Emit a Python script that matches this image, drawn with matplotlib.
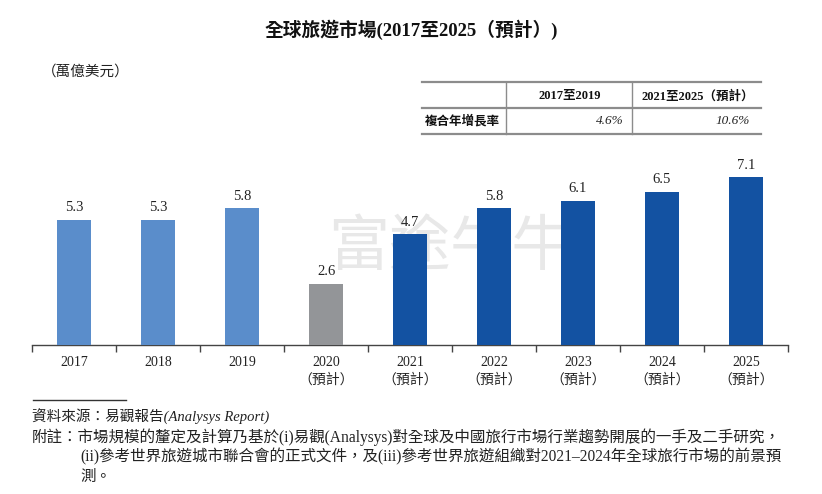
import matplotlib
matplotlib.use("Agg")
import matplotlib.pyplot as plt
from matplotlib.lines import Line2D
import numpy as np

plt.rcParams['font.family'] = ['Liberation Serif', 'Noto Sans CJK TC', 'DejaVu Sans']

years = ["2017", "2018", "2019", "2020", "2021", "2022", "2023", "2024", "2025"]
forecast = [False, False, False, True, True, True, True, True, True]
values = [5.3, 5.3, 5.8, 2.6, 4.7, 5.8, 6.1, 6.5, 7.1]
bar_colors = ["#5A8DCB", "#5A8DCB", "#5A8DCB", "#939598",
              "#1352A2", "#1352A2", "#1352A2", "#1352A2", "#1352A2"]
title = "全球旅遊市場(2017至2025（預計）)"
unit = "（萬億美元）"
table_cols = ["2017至2019", "2021至2025（預計）"]
table_row = "複合年增長率"
table_vals = ["4.6%", "10.6%"]
source = "資料來源：易觀報告(Analysys Report)"
notes = ["附註：市場規模的釐定及計算乃基於(i)易觀(Analysys)對全球及中國旅行市場行業趨勢開展的一手及二手研究，",
         "(ii)參考世界旅遊城市聯合會的正式文件，及(iii)參考世界旅遊組織對2021–2024年全球旅行市場的前景預",
         "測。"]

W, H = 822, 494
fig = plt.figure(figsize=(W / 100, H / 100), dpi=100)

def fx(x):
    return x / W

def fy(y):
    return 1 - y / H

# axes: x from 32 to 788 px, baseline at y=345, 23.6 px per unit
ymax = 8.0
top_px = 345 - ymax * 23.6
ax = fig.add_axes([fx(32), fy(345), fx(788) - fx(32), (345 - top_px) / H])
ax.set_zorder(2)
ax.patch.set_alpha(0)

x = np.arange(len(years))
bars = ax.bar(x, values, width=0.405, color=bar_colors, zorder=3)
ax.set_xlim(-0.5, len(years) - 0.5)
ax.set_ylim(0, ymax)
for xi, v in zip(x, values):
    ax.annotate(f"{v:.1f}", (xi, v), xytext=(0, 4), textcoords="offset points",
                ha="center", va="bottom", fontsize=10.5, color="#222222")

for s in ["top", "left", "right"]:
    ax.spines[s].set_visible(False)
ax.spines["bottom"].set_color("#444444")
ax.spines["bottom"].set_linewidth(1.0)
ax.set_yticks([])
ax.set_xticks(x)
labels = [f"{y}\n（預計）" if f else y for y, f in zip(years, forecast)]
ax.set_xticklabels(labels, fontsize=10, color="#222222", linespacing=1.4, va="top")
ax.tick_params(axis="x", which="major", length=0, pad=8)
ax.set_xticks(np.arange(-0.5, len(years)), minor=True)
ax.tick_params(axis="x", which="minor", length=5, width=1.0, color="#444444", direction="out")

# watermark
fig.text(fx(450), fy(248), "富途牛牛", fontsize=44, color="#E8E8E8",
         ha="center", va="center", family=["Noto Sans CJK TC"], zorder=0)

# title and unit
fig.text(fx(411), fy(30), title, fontsize=13.5, fontweight="bold", ha="center", va="center", color="#111111")
fig.text(fx(42), fy(72), unit, fontsize=10.5, ha="left", va="center", color="#222222")

# table
lc = "#8C8C8C"
fig.add_artist(Line2D([fx(422), fx(761)], [fy(82), fy(82)], color=lc, lw=1.6))
fig.add_artist(Line2D([fx(422), fx(761)], [fy(108), fy(108)], color=lc, lw=1.6))
fig.add_artist(Line2D([fx(422), fx(761)], [fy(134), fy(134)], color=lc, lw=1.6))
fig.add_artist(Line2D([fx(506), fx(506)], [fy(82), fy(134)], color=lc, lw=1.0))
fig.add_artist(Line2D([fx(632), fx(632)], [fy(82), fy(134)], color=lc, lw=1.0))
fig.text(fx(570), fy(96), table_cols[0], fontsize=9, fontweight="bold", ha="center", va="center", color="#111111")
fig.text(fx(698), fy(96), table_cols[1], fontsize=9, fontweight="bold", ha="center", va="center", color="#111111")
fig.text(fx(425), fy(121), table_row, fontsize=9, fontweight="bold", ha="left", va="center", color="#111111")
fig.text(fx(624), fy(121), table_vals[0], fontsize=9.5, style="italic", ha="right", va="center", color="#222222")
fig.text(fx(750), fy(121), table_vals[1], fontsize=9.5, style="italic", ha="right", va="center", color="#222222")

# footnotes
fig.add_artist(Line2D([fx(33), fx(126)], [fy(400), fy(400)], color="#333333", lw=1.0))
fig.text(fx(32), fy(417), source, fontsize=10.5, style="italic", ha="left", va="center", color="#222222")
fig.text(fx(32), fy(437), notes[0], fontsize=11.2, ha="left", va="center", color="#222222")
fig.text(fx(80), fy(457), notes[1], fontsize=11.2, ha="left", va="center", color="#222222")
fig.text(fx(80), fy(477), notes[2], fontsize=11.2, ha="left", va="center", color="#222222")

fig.savefig("out.png", dpi=100)
